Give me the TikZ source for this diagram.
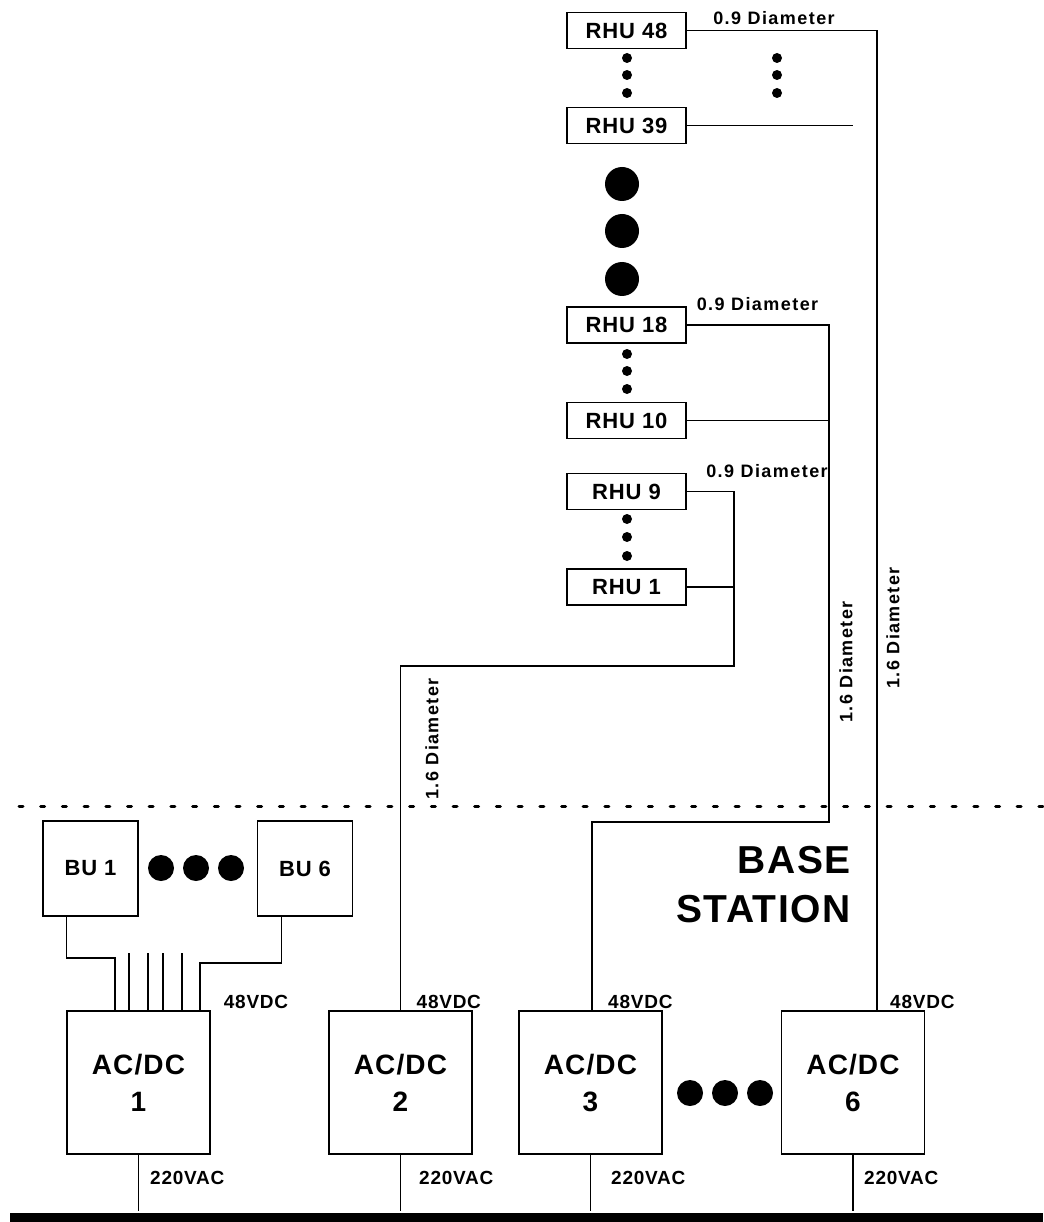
\documentclass[tikz,border=0pt]{standalone}
\usepackage{fontspec}
\setmainfont{Liberation Sans}
\newfontfamily\spfont{Liberation Sans}[LetterSpace=4]
\newfontfamily\wdfont{Liberation Sans}[LetterSpace=8]
\begin{document}
\begin{tikzpicture}[x=1pt,y=-1pt,
  box/.style={draw, line width=1.4pt, inner sep=0pt, font=\spfont\bfseries\fontsize{22}{26}\selectfont},
  rhu/.style={box, minimum width=119pt, minimum height=36pt},
  bu/.style={box, minimum width=95pt, minimum height=95pt},
  acdc/.style={box, minimum width=143pt, minimum height=143pt, align=center, font=\spfont\bfseries\fontsize{28}{37}\selectfont},
  wire/.style={line width=1.2pt},
  lab/.style={inner sep=0pt, font=\wdfont\bfseries\fontsize{18}{21}\selectfont},
  volt/.style={inner sep=0pt, font=\spfont\bfseries\fontsize{19}{22}\selectfont},
  big/.style={inner sep=0pt, font=\spfont\bfseries\fontsize{39}{48}\selectfont}]
\useasboundingbox (0,0) rectangle (1043,1222);

% RHU nodes
\node[rhu] (rhu48) at (626.5,30.5) {RHU 48};
\node[rhu] (rhu39) at (626.5,125.5) {RHU 39};
\node[rhu] (rhu18) at (626.5,325) {RHU 18};
\node[rhu] (rhu10) at (626.5,420.5) {RHU 10};
\node[rhu] (rhu9) at (626.5,491.5) {RHU 9};
\node[rhu] (rhu1) at (626.5,587) {RHU 1};

% BU nodes
\node[bu] (bu1) at (90.5,868.5) {BU 1};
\node[bu] (bu6) at (305,868.5) {BU 6};

% AC/DC nodes
\node[acdc] (ac1) at (138.5,1082.5) {AC/DC\\1};
\node[acdc] (ac2) at (400.5,1082.5) {AC/DC\\2};
\node[acdc] (ac3) at (590.5,1082.5) {AC/DC\\3};
\node[acdc] (ac6) at (853,1082.5) {AC/DC\\6};

% junction coordinates
\coordinate (e39) at (853,125.5);
\coordinate (c18) at (829,822);
\coordinate (c9) at (734,666);
\coordinate (b1) at (115,958);
\coordinate (b6) at (200,963);

% wires
\draw[wire] (rhu48.east) -| ([xshift=24pt]ac6.north);
\draw[wire] (rhu39.east) -- (e39);
\draw[wire] (rhu18.east) -| (c18) -| ([xshift=1.5pt]ac3.north);
\draw[wire] (rhu10.east) -- (rhu10.east -| c18);
\draw[wire] (rhu9.east) -| (c9) -| (ac2.north);
\draw[wire] (rhu1.east) -- (rhu1.east -| c9);

\draw[wire] ([xshift=24pt]bu1.south west) |- (b1) -- (b1 |- ac1.north);
\draw[wire] ([xshift=25pt]bu6.south west) |- (b6) -- (b6 |- ac1.north);
\foreach \xx in {129,148,163,182} {
  \coordinate (s\xx) at (\xx,953);
  \draw[wire] (s\xx) -- (s\xx |- ac1.north);
}

\foreach \n in {ac1,ac2,ac3,ac6} {
  \draw[wire] (\n.south) -- ++(0,56);
}

% voltage labels
\node[volt, anchor=base west] at ([xshift=13pt,yshift=2pt]ac1.north east) {48VDC};
\node[volt, anchor=base west] at ([xshift=16pt,yshift=2pt]ac2.north) {48VDC};
\node[volt, anchor=base west] at ([xshift=17.5pt,yshift=2pt]ac3.north) {48VDC};
\node[volt, anchor=base west] at ([xshift=37pt,yshift=2pt]ac6.north) {48VDC};
\node[volt, anchor=west] at ([xshift=11.5pt,yshift=-23pt]ac1.south) {220VAC};
\node[volt, anchor=west] at ([xshift=18.5pt,yshift=-23pt]ac2.south) {220VAC};
\node[volt, anchor=west] at ([xshift=20.5pt,yshift=-23pt]ac3.south) {220VAC};
\node[volt, anchor=west] at ([xshift=11pt,yshift=-23pt]ac6.south) {220VAC};

% diameter labels
\node[lab] (d1) at (774,18) {0.9 Diameter};
\node[lab] (d2) at (757.5,304) {0.9 Diameter};
\node[lab] (d3) at (767,471) {0.9 Diameter};
\node[lab, rotate=90] (d4) at (432,739) {1.6 Diameter};
\node[lab, rotate=90] (d5) at (846,662) {1.6 Diameter};
\node[lab, rotate=90] (d6) at (893,628) {1.6 Diameter};

% base station
\node[big, anchor=base east] (bs1) at (851,873) {BASE};
\node[big, anchor=base east] (bs2) at (851,922) {STATION};

% dots
\foreach \yy in {58,75,93} {
  \fill (627,\yy) circle[radius=5pt];
  \fill (777,\yy) circle[radius=5pt];
}
\foreach \yy in {354,371,389} { \fill (627,\yy) circle[radius=5pt]; }
\foreach \yy in {519,537,556} { \fill (627,\yy) circle[radius=5pt]; }
\foreach \yy in {184,231,279} { \fill (622,\yy) circle[radius=17pt]; }
\foreach \xx in {161,196,231} { \fill (\xx,868) circle[radius=13pt]; }
\foreach \xx in {690,725,760} { \fill (\xx,1093) circle[radius=13pt]; }

% separator and ground bar
\draw[line width=3pt, line cap=round, dash pattern=on 4pt off 17.7pt] (19,806) -- (1043,806);
\fill (10,1213) rectangle (1043,1222);
\end{tikzpicture}
\end{document}
